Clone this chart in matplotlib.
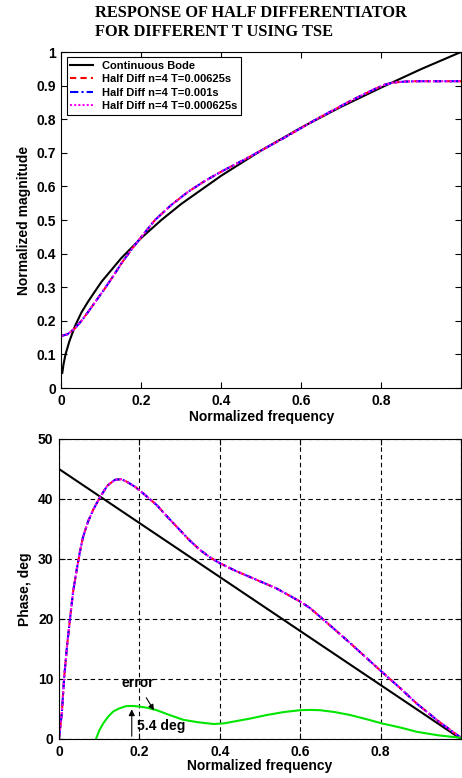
import numpy as np
import matplotlib
matplotlib.use('Agg')
import matplotlib.pyplot as plt

# magnitude plot data
freq_cont = [0.002, 0.005, 0.01, 0.02, 0.034, 0.05, 0.067, 0.1, 0.15, 0.2, 0.25, 0.3, 0.4, 0.5, 0.6, 0.7, 0.8, 0.9, 1.0]
mag_cont = [0.045, 0.07, 0.10, 0.14, 0.185, 0.225, 0.258, 0.316, 0.387, 0.447, 0.50, 0.548, 0.632, 0.707, 0.775, 0.837, 0.894, 0.949, 1.0]

freq_mag = [0.0, 0.015, 0.034, 0.05, 0.067, 0.088, 0.109, 0.13, 0.15, 0.175, 0.2, 0.234, 0.275, 0.317, 0.36, 0.4, 0.471,
            0.555, 0.638, 0.721, 0.76, 0.788, 0.81, 0.83, 0.86, 0.888, 0.95, 1.0]
mag_approx = [0.155, 0.160, 0.178, 0.200, 0.227, 0.262, 0.297, 0.334, 0.371, 0.412, 0.450, 0.500, 0.545, 0.584, 0.617, 0.644, 0.688,
              0.743, 0.800, 0.853, 0.876, 0.892, 0.903, 0.909, 0.912, 0.913, 0.913, 0.913]

# phase plot data
freq_phase_cont = [0.0, 1.0]
phase_cont = [45.0, 0.0]

freq_ph = [0.0, 0.007, 0.013, 0.02, 0.027, 0.035, 0.044, 0.052, 0.06, 0.072, 0.085, 0.102, 0.12, 0.139, 0.155, 0.168, 0.19,
           0.21, 0.243, 0.27, 0.301, 0.325, 0.351, 0.375, 0.4, 0.44, 0.475, 0.541, 0.6, 0.625, 0.649, 0.685, 0.724, 0.765,
           0.803, 0.85, 0.89, 0.945, 1.0]
phase_approx = [0.0, 4.3, 10.4, 15.5, 19.8, 24.5, 28.2, 31.2, 33.7, 36.2, 38.2, 40.3, 42.2, 43.2, 43.3, 42.9, 42.0,
                40.9, 39.0, 37.0, 34.8, 33.1, 31.5, 30.3, 29.3, 28.0, 27.0, 25.1, 22.9, 21.8, 20.4, 18.3, 16.0, 13.5,
                11.2, 8.4, 5.9, 2.9, 0.2]

freq_err = [0.092, 0.10, 0.11, 0.122, 0.135, 0.15, 0.168, 0.185, 0.2, 0.22, 0.243, 0.275, 0.309, 0.345, 0.384, 0.41,
            0.434, 0.475, 0.517, 0.56, 0.6, 0.625, 0.649, 0.685, 0.724, 0.765, 0.803, 0.85, 0.89, 0.945, 1.0]
phase_err = [0.0, 1.4, 2.6, 3.7, 4.6, 5.1, 5.5, 5.5, 5.4, 5.2, 4.8, 4.0, 3.2, 2.8, 2.5, 2.6,
             2.9, 3.4, 4.0, 4.5, 4.8, 4.85, 4.8, 4.5, 4.0, 3.3, 2.6, 1.9, 1.2, 0.6, 0.2]

labels = ['Continuous Bode', 'Half Diff n=4 T=0.00625s', 'Half Diff n=4 T=0.001s', 'Half Diff n=4 T=0.000625s']
xtick_vals = [0, 0.2, 0.4, 0.6, 0.8, 1]
xtick_labels = ['0', '0.2', '0.4', '0.6', '0.8', '']

plt.rcParams['font.family'] = ['Liberation Sans', 'DejaVu Sans']
plt.rcParams['font.weight'] = 'bold'

fig = plt.figure(figsize=(4.62, 7.78), dpi=100)

W, H = 462., 778.
ax1 = fig.add_axes([61.5/W, 1-388/H, (461-61.5)/W, (388-52)/H])
ax2 = fig.add_axes([59/W, 1-739/H, (461-59)/W, (739-439)/H])

fig.text(95/W, 1-13/H, 'RESPONSE OF HALF DIFFERENTIATOR', family='Liberation Serif',
         weight='bold', size=11.8, va='center', ha='left')
fig.text(95/W, 1-32/H, 'FOR DIFFERENT T USING TSE', family='Liberation Serif',
         weight='bold', size=11.8, va='center', ha='left')

# top: magnitude
ax1.plot(freq_cont, mag_cont, color='black', lw=1.5, label=labels[0])
ax1.plot(freq_mag, mag_approx, color='red', lw=1.5, ls=(0, (3, 2)), label=labels[1])
ax1.plot(freq_mag, mag_approx, color='blue', lw=1.5, ls=(0, (4, 1.5, 1, 1.5)), label=labels[2])
ax1.plot(freq_mag, mag_approx, color='magenta', lw=1.5, ls=(0, (1, 1)), label=labels[3])
ax1.set_xlim(0, 1)
ax1.set_ylim(0, 1)
ax1.set_xticks(xtick_vals)
ax1.set_xticklabels(xtick_labels)
ax1.set_yticks(np.arange(0, 1.01, 0.1))
ax1.set_yticklabels(['0', '0.1', '0.2', '0.3', '0.4', '0.5', '0.6', '0.7', '0.8', '0.9', '1'])
ax1.set_xlabel('Normalized frequency', size=10, weight='bold', labelpad=2)
ax1.set_ylabel('Normalized magnitude', size=10, weight='bold', labelpad=4)
leg = ax1.legend(loc='upper left', handlelength=2.0, labelspacing=0.3,
                 fancybox=False, edgecolor='black', framealpha=1, borderaxespad=0.45,
                 borderpad=0.35, handletextpad=0.8, prop={'weight': 'bold', 'size': 8})
leg.get_frame().set_linewidth(0.8)

# bottom: phase
ax2.plot(freq_phase_cont, phase_cont, color='black', lw=1.5)
ax2.plot(freq_ph, phase_approx, color='red', lw=1.5, ls=(0, (3, 2)))
ax2.plot(freq_ph, phase_approx, color='blue', lw=1.5, ls=(0, (4, 1.5, 1, 1.5)))
ax2.plot(freq_ph, phase_approx, color='magenta', lw=1.5, ls=(0, (1, 1)))
ax2.plot(freq_err, phase_err, color='#00e600', lw=1.5)
ax2.set_xlim(0, 1)
ax2.set_ylim(0, 50)
ax2.set_xticks(xtick_vals)
ax2.set_xticklabels(xtick_labels)
ax2.set_yticks([0, 10, 20, 30, 40, 50])
ax2.grid(True, color='black', linestyle=(0, (4, 3)), linewidth=0.8)
ax2.set_xlabel('Normalized frequency', size=10, weight='bold', labelpad=0)
ax2.set_ylabel('Phase, deg', size=10, weight='bold', labelpad=4)

ax2.annotate('', xy=(0.181, 5.4), xytext=(0.181, 0),
             arrowprops=dict(arrowstyle='-|>', color='black', lw=0.8, mutation_scale=9))
ax2.text(0.195, 2.2, '5.4 deg', size=10, weight='bold', ha='left', va='center')
ax2.annotate('error', xy=(0.236, 4.8), xytext=(0.195, 9.3),
             size=10, weight='bold', ha='center', va='center',
             arrowprops=dict(arrowstyle='-|>', color='black', lw=0.8, mutation_scale=8,
                             shrinkA=4, shrinkB=0))

for ax in (ax1, ax2):
    ax.tick_params(direction='in', top=True, right=True, length=4, width=0.8,
                   labelsize=10, pad=4)
    for lab in ax.get_xticklabels() + ax.get_yticklabels():
        lab.set_fontweight('bold')
    for s in ax.spines.values():
        s.set_linewidth(0.8)

plt.savefig('out.png', dpi=100)
